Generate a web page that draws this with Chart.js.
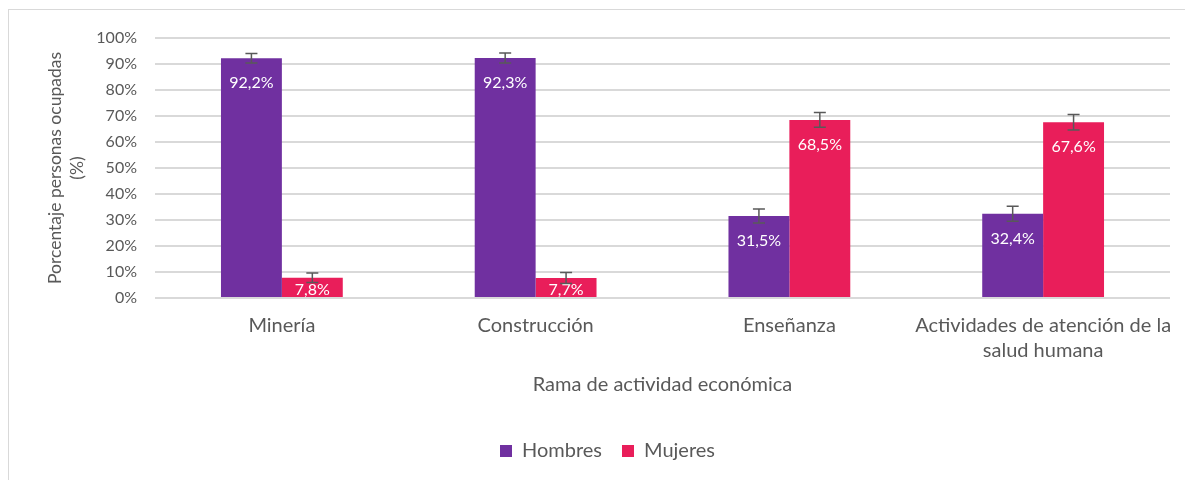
<!DOCTYPE html>
<html lang="es">
<head>
<meta charset="utf-8">
<title>Porcentaje personas ocupadas por rama</title>
<script src="https://cdn.jsdelivr.net/npm/chart.js@4/dist/chart.umd.min.js"></script>
<style>
  html, body { margin: 0; padding: 0; background: #fff; overflow: hidden; }
  #frame {
    position: absolute; left: 8px; top: 9px;
    width: 1200px; height: 500px;
    border: 1px solid #d9d9d9;
  }
  #wrap { position: absolute; left: 0; top: 0; width: 1185px; height: 480px; }
</style>
</head>
<body>
<div id="frame"></div>
<div id="wrap"><canvas id="chart" width="1185" height="480"></canvas></div>
<script>
const categories = [
  "Minería",
  "Construcción",
  "Enseñanza",
  ["Actividades de atención de la", "salud humana"]
];
const hombres = [92.2, 92.3, 31.5, 32.4];
const mujeres = [7.8, 7.7, 68.5, 67.6];
// error bar half-widths (percentage points)
const errHombres = [1.8, 1.9, 2.7, 2.9];
const errMujeres = [1.8, 2.1, 2.8, 3.0];
const yTicks = [0, 10, 20, 30, 40, 50, 60, 70, 80, 90, 100];

const textColor = "#595959";
const fontFamily = "Lato, 'Noto Sans', sans-serif";

const errors = [errHombres, errMujeres];

const fmt = (v) => v.toFixed(1).replace(".", ",") + "%";

// white labels inside the bar end
const barLabels = {
  id: "barLabels",
  afterDatasetsDraw(chart) {
    const ctx = chart.ctx;
    ctx.save();
    ctx.fillStyle = "#ffffff";
    ctx.font = "16px " + fontFamily;
    ctx.textAlign = "center";
    ctx.textBaseline = "middle";
    chart.data.datasets.forEach((ds, di) => {
      chart.getDatasetMeta(di).data.forEach((bar, i) => {
        const h = bar.base - bar.y;
        const y = h > 50 ? bar.y + 25 : (bar.y + bar.base) / 2 + 2;
        ctx.fillText(fmt(ds.data[i]), bar.x, y);
      });
    });
    ctx.restore();
  }
};

// whiskers drawn from the error arrays through the y scale
const errorBars = {
  id: "errorBars",
  afterDatasetsDraw(chart) {
    const ctx = chart.ctx;
    const yScale = chart.scales.y;
    ctx.save();
    ctx.strokeStyle = "#595959";
    ctx.lineWidth = 1.5;
    chart.data.datasets.forEach((ds, di) => {
      chart.getDatasetMeta(di).data.forEach((bar, i) => {
        const v = ds.data[i];
        const e = errors[di][i];
        const top = yScale.getPixelForValue(v + e);
        const bot = yScale.getPixelForValue(v - e);
        ctx.beginPath();
        ctx.moveTo(bar.x, top);
        ctx.lineTo(bar.x, bot);
        ctx.moveTo(bar.x - 6, top);
        ctx.lineTo(bar.x + 6, top);
        ctx.moveTo(bar.x - 6, bot);
        ctx.lineTo(bar.x + 6, bot);
        ctx.stroke();
      });
    });
    ctx.restore();
  }
};

const ctx = document.getElementById("chart").getContext("2d");
new Chart(ctx, {
  type: "bar",
  data: {
    labels: categories,
    datasets: [
      {
        label: "Hombres",
        data: hombres,
        backgroundColor: "#7030A0",
        categoryPercentage: 0.48,
        barPercentage: 1.0
      },
      {
        label: "Mujeres",
        data: mujeres,
        backgroundColor: "#E91E5A",
        categoryPercentage: 0.48,
        barPercentage: 1.0
      }
    ]
  },
  options: {
    responsive: false,
    animation: false,
    layout: { padding: { left: 30, right: 0, top: 38, bottom: 9 } },
    plugins: {
      legend: {
        position: "bottom",
        labels: {
          boxWidth: 12,
          boxHeight: 12,
          padding: 20,
          color: textColor,
          font: { family: fontFamily, size: 20 }
        }
      },
      tooltip: { enabled: false }
    },
    scales: {
      x: {
        grid: { display: false, drawTicks: false },
        border: { display: false },
        ticks: {
          color: textColor,
          padding: 15.5,
          maxRotation: 0,
          autoSkip: false,
          font: { family: fontFamily, size: 20, lineHeight: 1.25 }
        },
        title: {
          display: true,
          text: "Rama de actividad económica",
          color: textColor,
          padding: { top: 0, bottom: 24 },
          font: { family: fontFamily, size: 20, lineHeight: 1.2 }
        },
        afterFit: (scale) => {
          scale.height = 123;
          scale.paddingLeft = 0;
          scale.paddingRight = 15;
        }
      },
      y: {
        min: 0,
        max: 100,
        afterBuildTicks: (scale) => {
          scale.ticks = yTicks.map((v) => ({ value: v }));
        },
        grid: { color: "#d9d9d9", lineWidth: 2, drawTicks: false },
        border: { display: false },
        ticks: {
          color: textColor,
          padding: 18,
          font: { family: fontFamily, size: 16 },
          callback: (value) => value + "%"
        },
        title: {
          display: true,
          text: ["Porcentaje personas ocupadas", "(%)"],
          color: textColor,
          padding: { top: 14, bottom: 0 },
          font: { family: fontFamily, size: 17.5, lineHeight: 1.26 }
        },
        afterFit: (scale) => { scale.width = 125; }
      }
    }
  },
  plugins: [barLabels, errorBars]
});
</script>
</body>
</html>
